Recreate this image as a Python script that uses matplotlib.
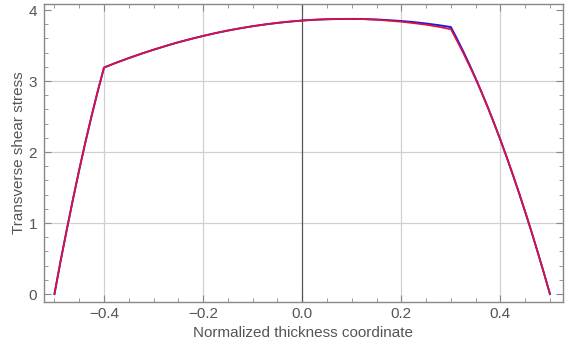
import matplotlib
matplotlib.use('Agg')
import matplotlib.pyplot as plt
from matplotlib.ticker import MultipleLocator

# thickness coordinate samples (denser near the outer layers)
z = [-0.5, -0.4875, -0.475, -0.4625, -0.45, -0.4375, -0.425, -0.4125,
     -0.4, -0.375, -0.35, -0.325, -0.3, -0.275, -0.25, -0.225, -0.2, -0.175,
     -0.15, -0.125, -0.1, -0.075, -0.05, -0.025, 0.0, 0.025, 0.05, 0.075,
     0.1, 0.125, 0.15, 0.175, 0.2, 0.225, 0.25, 0.275,
     0.3, 0.3125, 0.325, 0.3375, 0.35, 0.3625, 0.375, 0.3875, 0.4, 0.4125,
     0.425, 0.4375, 0.45, 0.4625, 0.475, 0.4875, 0.5]

# values
tau_blue = [0.0, 0.47, 0.91, 1.34, 1.75, 2.14, 2.51, 2.86,
            3.19, 3.259, 3.323, 3.384, 3.441, 3.495, 3.546, 3.592, 3.635, 3.675,
            3.711, 3.743, 3.772, 3.797, 3.819, 3.837, 3.852, 3.863, 3.87, 3.874,
            3.875, 3.873, 3.867, 3.857, 3.845, 3.83, 3.81, 3.787,
            3.76, 3.593, 3.417, 3.232, 3.038, 2.835, 2.623, 2.401, 2.171, 1.932,
            1.683, 1.425, 1.158, 0.883, 0.597, 0.303, 0.0]

tau_red = [0.0, 0.47, 0.91, 1.34, 1.75, 2.14, 2.51, 2.86,
           3.19, 3.259, 3.323, 3.384, 3.441, 3.495, 3.546, 3.592, 3.635, 3.675,
           3.711, 3.743, 3.772, 3.797, 3.819, 3.837, 3.852, 3.863, 3.87, 3.874,
           3.875, 3.871, 3.863, 3.85, 3.835, 3.815, 3.793, 3.764,
           3.73, 3.565, 3.395, 3.215, 3.03, 2.83, 2.62, 2.40, 2.171, 1.932,
           1.683, 1.425, 1.158, 0.883, 0.597, 0.303, 0.0]

plt.rcParams['font.family'] = ['Liberation Sans', 'DejaVu Sans']
grey = '#555555'

fig = plt.figure(figsize=(5.72, 3.47), dpi=100)
ax = fig.add_axes([0.077, 0.13, 0.907, 0.8585])

ax.plot(z, tau_blue, color='#1a1ae6', lw=1.4, zorder=3)
ax.plot(z, tau_red, color='#e0103c', lw=1.25, zorder=4)

ax.set_xlim(-0.521, 0.526)
ax.set_ylim(-0.11, 4.085)

ax.xaxis.set_minor_locator(MultipleLocator(0.05))
ax.yaxis.set_major_locator(MultipleLocator(1))
ax.yaxis.set_minor_locator(MultipleLocator(0.2))
ax.set_xticks([-0.4, -0.2, 0.0, 0.2, 0.4])
ax.set_xticklabels(['\u22120.4', '\u22120.2', '0.0', '0.2', '0.4'])

for x in [-0.4, -0.2, 0.2, 0.4]:
    ax.axvline(x, color='#d0d0d0', lw=0.9, zorder=1)
for y in [1, 2, 3]:
    ax.axhline(y, color='#d0d0d0', lw=0.9, zorder=1)
ax.axvline(0, color='#555555', lw=0.9, zorder=2)

for s in ax.spines.values():
    s.set_color('#888888')
    s.set_linewidth(1.0)

ax.tick_params(which='both', direction='in', top=True, right=True, colors='#888888',
               labelcolor=grey, labelsize=11)
ax.tick_params(which='major', length=5, width=0.8)
ax.tick_params(which='minor', length=3, width=0.6)
ax.tick_params(axis='x', which='major', pad=4)
ax.tick_params(axis='y', which='major', pad=5)

ax.set_xlabel('Normalized thickness coordinate', fontsize=11, color=grey, labelpad=3)
ax.set_ylabel('Transverse shear stress', fontsize=11, color=grey, labelpad=2)

fig.savefig('out.png', dpi=100)
